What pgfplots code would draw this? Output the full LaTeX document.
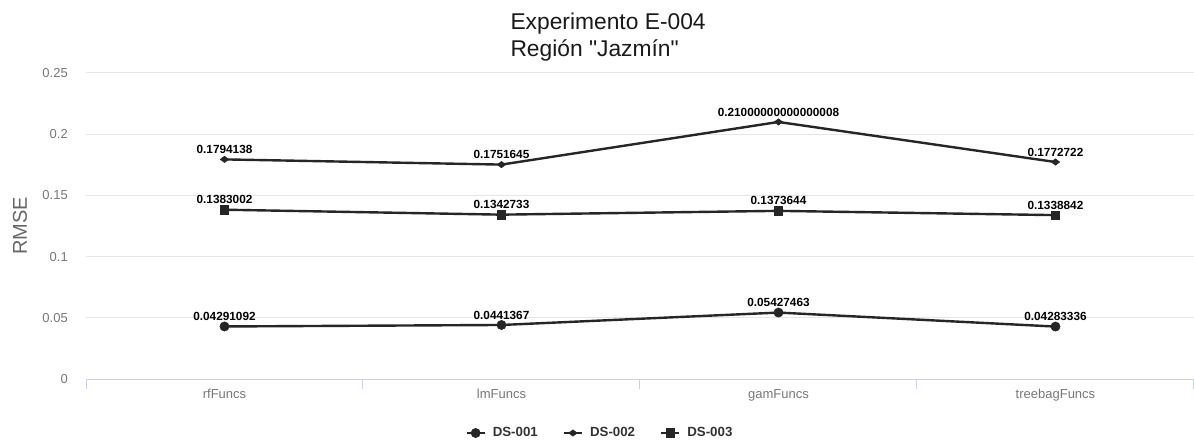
\documentclass[border=0pt]{standalone}
\usepackage{fontspec}
\setmainfont{Liberation Sans}
% separate family without TeX ligatures, so that " stays a straight quote
\newfontfamily\titlefont{Liberation Sans}
\usepackage{pgfplots}
\pgfplotsset{compat=1.18}
\usepackage{pgfplotstable}

\definecolor{linecol}{HTML}{262626}
\definecolor{gridcol}{HTML}{E6E6E6}
\definecolor{axiscol}{HTML}{C6D4EC}
\definecolor{tickcol}{HTML}{777777}

% RMSE per feature-selection function
\pgfplotstableread{
x y label
0 0.04291092 0.04291092
1 0.0441367 0.0441367
2 0.05427463 0.05427463
3 0.04283336 0.04283336
}\dsone
\pgfplotstableread{
x y label
0 0.1794138 0.1794138
1 0.1751645 0.1751645
2 0.21000000000000008 0.21000000000000008
3 0.1772722 0.1772722
}\dstwo
\pgfplotstableread{
x y label
0 0.1383002 0.1383002
1 0.1342733 0.1342733
2 0.1373644 0.1373644
3 0.1338842 0.1338842
}\dsthree

\begin{document}
\begin{tikzpicture}
\useasboundingbox (0,0) rectangle (1194bp,442bp);
\begin{axis}[
  at={(86bp,63bp)}, anchor=south west,
  scale only axis, width=1108bp, height=306bp,
  xmin=-0.5, xmax=3.5, ymin=0, ymax=0.25,
  axis x line*=bottom, axis y line*=left,
  x axis line style={-, draw=axiscol, line width=1bp},
  y axis line style={draw=none},
  xtick={0,1,2,3},
  xticklabels={rfFuncs,lmFuncs,gamFuncs,treebagFuncs},
  extra x ticks={-0.5,0.5,1.5,2.5,3.5},
  extra x tick labels={},
  extra x tick style={major tick length=10bp, tick align=outside,
    tick style={draw=axiscol, line width=1bp}, grid=none},
  major tick length=0pt,
  ytick={0,0.05,0.1,0.15,0.2,0.25},
  yticklabels={0,0.05,0.1,0.15,0.2,0.25},
  ymajorgrids, grid style={draw=gridcol, line width=1bp},
  tick label style={font=\fontsize{13bp}{15bp}\selectfont, text=tickcol},
  yticklabel style={inner sep=0pt, xshift=-18bp},
  xticklabel style={inner sep=0pt, yshift=-10bp},
  every axis plot/.append style={line width=2.4bp, color=linecol},
  nodes near coords,
  point meta=explicit symbolic,
  every node near coord/.append style={font=\fontsize{11.8bp}{14bp}\selectfont\bfseries,
    text=black, anchor=south, yshift=4.5bp, inner sep=1bp},
  legend columns=3,
  legend style={at={(0.4639,-0.1765)}, anchor=center, draw=none, fill=none,
    font=\fontsize{13.3bp}{15bp}\selectfont\bfseries, text=black!80,
    /tikz/every odd column/.append style={column sep=5bp},
    /tikz/every even column/.append style={column sep=23bp}},
  legend image code/.code={
    \draw[mark repeat=2, mark phase=2, #1, line width=2.2bp]
      plot coordinates {(0bp,0bp) (9bp,0bp) (18bp,0bp)};
  },
]
\addplot[mark=*, mark size=4.6bp, mark options={line width=0.6bp}] table[x=x, y=y, meta=label] {\dsone};
\addlegendentry{DS-001}
\addplot[mark=diamond*, mark size=4.2bp, mark options={line width=0.6bp, rotate=90}] table[x=x, y=y, meta=label] {\dstwo};
\addlegendentry{DS-002}
\addplot[mark=square*, mark size=4.3bp, mark options={line width=0.6bp}] table[x=x, y=y, meta=label] {\dsthree};
\addlegendentry{DS-003}
\end{axis}
\node[anchor=base west, font=\titlefont\fontsize{22.8bp}{27bp}\selectfont, text=black!90] at (507bp,412bp) {Experimento E-004};
\node[anchor=base west, font=\titlefont\fontsize{22.8bp}{27bp}\selectfont, text=black!90] at (507bp,385bp) {Región "Jazmín"};
\node[rotate=90, font=\fontsize{20bp}{24bp}\selectfont, text=black!60] at (20bp,216bp) {RMSE};
\end{tikzpicture}
\end{document}
